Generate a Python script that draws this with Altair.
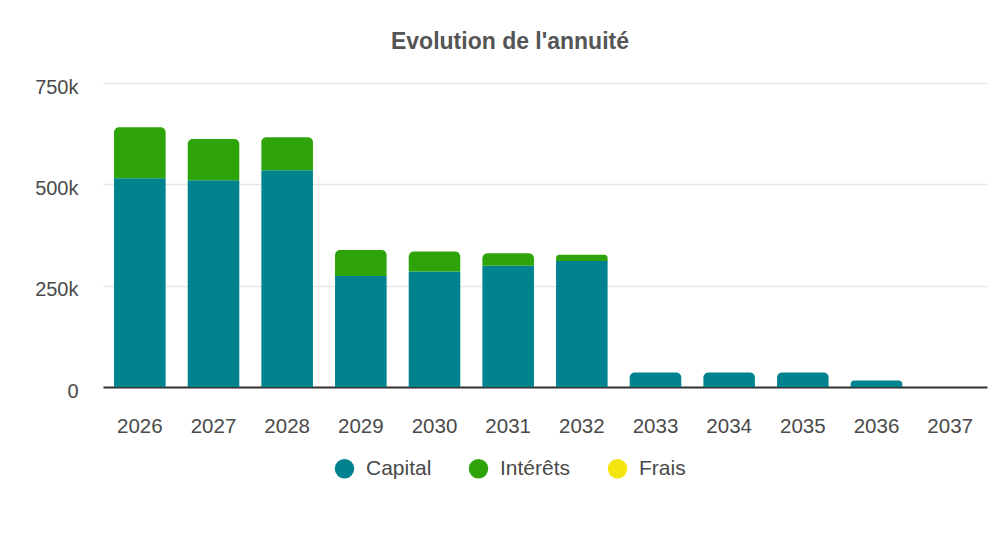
import altair as alt
import pandas as pd

years = ["2026", "2027", "2028", "2029", "2030", "2031", "2032", "2033", "2034", "2035", "2036", "2037"]
capital = [515000, 510000, 535000, 274000, 285000, 299000, 311000, 36000, 36000, 36000, 16000, 0]
interets = [126000, 102000, 81000, 64000, 49000, 31000, 15000, 0, 0, 0, 0, 0]
frais = [0, 0, 0, 0, 0, 0, 0, 0, 0, 0, 0, 0]

series = ["Capital", "Intérêts", "Frais"]
colors = ["#00838f", "#2ea40a", "#f4e40f"]

rows = []
for i, y in enumerate(years):
    for k, (name, vals) in enumerate(zip(series, [capital, interets, frais])):
        rows.append({"year": y, "serie": name, "ord": k, "value": vals[i]})
df = pd.DataFrame(rows)

FONT = "Liberation Sans"

base = alt.Chart(df).transform_filter(
    "datum.value > 0"
).transform_stack(
    stack="value", groupby=["year"], as_=["v0", "v1"], sort=[alt.SortField("ord", order="ascending")]
).transform_joinaggregate(
    top="max(v1)", groupby=["year"]
)

x_enc = alt.X("year:N", sort=years, title=None,
              scale=alt.Scale(domain=years, paddingInner=0.3, paddingOuter=0.15),
              axis=alt.Axis(labelAngle=0, ticks=False, labelPadding=29, labelFontSize=20.5,
                            labelColor="#4a4a4a", labelFont=FONT, domainColor="#333333",
                            domainWidth=2, grid=False))
y_enc = alt.Y("v1:Q", title=None,
              scale=alt.Scale(domain=[0, 750000], nice=False),
              axis=alt.Axis(values=[0, 250000, 500000, 750000], labelExpr="datum.value == 0 ? '0' : (datum.value/1000) + 'k'",
                            ticks=False, domain=False, labelPadding=25, labelFontSize=20,
                            labelColor="#4a4a4a", labelFont=FONT, gridColor="#e6e6e6",
                            gridWidth=1.5, labelOffset=4))
color_enc = alt.Color("serie:N", title=None,
                      scale=alt.Scale(domain=series, range=colors),
                      legend=alt.Legend(orient="none", legendX=231, legendY=375, direction="horizontal",
                                        symbolType="circle", symbolSize=380, symbolStrokeWidth=0,
                                        labelFontSize=21, labelFont=FONT, labelColor="#4a4a4a",
                                        labelOffset=11, columnPadding=36, padding=0))

square = base.transform_filter("datum.v1 < datum.top").mark_bar(cornerRadius=0).encode(
    x=x_enc, y=y_enc, y2="v0:Q", color=color_enc
)
rounded = base.transform_filter("datum.v1 >= datum.top").mark_bar(
    cornerRadiusTopLeft=5, cornerRadiusTopRight=5
).encode(
    x=x_enc, y=y_enc, y2="v0:Q", color=color_enc
)

chart = alt.layer(square, rounded).properties(
    width=884,
    height=304,
    title=alt.Title("Evolution de l'annuité", fontSize=23, fontWeight="bold", color="#555555",
                    font=FONT, anchor="middle", dx=-35, offset=23),
    autosize=alt.AutoSizeParams(type="none"),
    padding={"left": 95, "top": 75, "right": 7, "bottom": 151},
    background="white",
).configure_view(stroke=None)

chart.save("out.html", embed_options={"renderer": "svg", "actions": False})
